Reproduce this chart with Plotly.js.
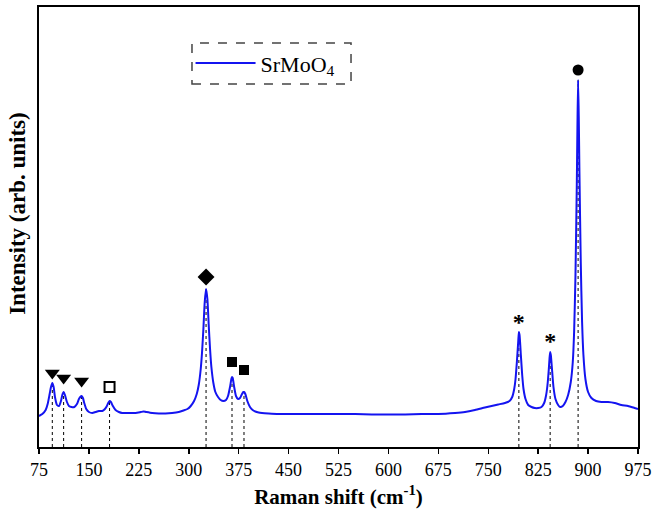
<!DOCTYPE html>
<html>
<head>
<meta charset="utf-8">
<script src="https://cdn.plot.ly/plotly-3.0.1.min.js"></script>
<style>html,body{margin:0;padding:0;background:#fff;}#chart{width:659px;height:513px;}</style>
</head>
<body>
<div id="chart"></div>
<script>
// Raman spectrum (x: Raman shift in cm^-1, y: intensity in arbitrary units)
var ramanShift = [75,80,85,88,91,93,95,97,99,102,105,108,110,112,114,117,120,124,128,132,135,137,139,141,143,146,150,155,160,165,170,174,177,179,181,183,186,190,195,200,210,220,228,232,236,245,255,265,275,285,292,298,303,308,312,315,318,320,322,324,326,328,330,332,334,337,340,344,348,352,356,359,362,364,365,366,368,371,374,377,380,382,383,385,388,392,396,400,405,410,420,435,450,475,500,525,550,575,600,625,650,675,700,715,730,745,755,765,775,782,786,789,791,793,795,796,797,799,801,803,806,810,815,820,825,830,834,837,839,841,842,843,844,846,848,851,855,858,862,866,870,874,877,879,881,883,884,885,886,887,889,891,893,896,900,905,912,920,930,940,950,960,970,975];
var intensity = [31,33,37,43,53,60,64,60,50,42,41,46,52,55,52,45,41,40,40,43,48,50,51,49,44,38,35,34,35,36,36,38,41,44,46,45,41,37,35,34,34,34,35,35.5,35,34,33.5,33.5,34,35,36.5,38,41,46,53,62,78,95,118,145,158,148,122,98,80,64,55,50,47,46,47,51,60,68,70,69,61,51,48,49,53,55,55,53,46,40,37,35.5,34.5,34,33.5,33,33,33,33,33,33,32.5,32.5,32.5,33,33,34,35,37,39.5,41,42.5,44,46,50,58,68,85,105,115,112,92,72,58,48,42,40,39,39,40,44,52,62,78,88,95,92,76,60,48,42,40,41,45,52,65,85,115,170,260,320,367,330,275,185,125,92,68,55,49,46,45,45,44,42,41,39,38];

// Assigned peaks
var peakPos    = [95, 112, 139, 181, 326, 365, 383, 796, 843, 885];
var peakTop    = [64, 55, 51, 46, 158, 70, 55, 115, 95, 367];
// Peak symbols
var triX = [95, 112, 139];         var triY = [74, 69, 66];
var openSqX = [181];               var openSqY = [60];
var diaX = [326];                  var diaY = [170];
var sqX = [365, 383];              var sqY = [85, 77];
var starX = [796, 843];            var starY = [123, 104];
var dotX = [885];                  var dotY = [377];

var xTicks = [75,150,225,300,375,450,525,600,675,750,825,900,975];

var dropX = [], dropY = [];
for (var i = 0; i < peakPos.length; i++) {
  dropX.push(peakPos[i], peakPos[i], null);
  dropY.push(0, peakTop[i], null);
}

var serif = "Liberation Serif, Times New Roman, serif";

var traces = [
  {x: dropX, y: dropY, mode: 'lines', line: {color: '#000', width: 1, dash: 'dot'}, showlegend: false, hoverinfo: 'skip'},
  {x: ramanShift, y: intensity, mode: 'lines', name: 'SrMoO<sub>4</sub>',
   line: {color: '#1414f0', width: 2, shape: 'spline', smoothing: 0.6}},
  {x: triX, y: triY, mode: 'markers', marker: {symbol: 'triangle-down', size: 13, color: '#000'}, showlegend: false},
  {x: openSqX, y: openSqY, mode: 'markers', marker: {symbol: 'square-open', size: 10, color: '#000', line: {width: 2}}, showlegend: false},
  {x: diaX, y: diaY, mode: 'markers', marker: {symbol: 'diamond', size: 13, color: '#000'}, showlegend: false},
  {x: sqX, y: sqY, mode: 'markers', marker: {symbol: 'square', size: 10, color: '#000'}, showlegend: false},
  {x: starX, y: starY, mode: 'text', text: starX.map(function(){return '<b>*</b>';}), textposition: 'middle center',
   textfont: {family: serif, size: 24, color: '#000'}, showlegend: false},
  {x: dotX, y: dotY, mode: 'markers', marker: {symbol: 'circle', size: 11, color: '#000'}, showlegend: false}
];

var layout = {
  width: 659, height: 513,
  margin: {l: 39, r: 21, t: 7, b: 66},
  paper_bgcolor: '#fff', plot_bgcolor: '#fff',
  font: {family: serif, color: '#000'},
  xaxis: {
    range: [75, 975], tickvals: xTicks, ticktext: xTicks.map(String),
    ticks: 'outside', ticklen: 5, tickwidth: 1.5, tickcolor: '#000',
    showline: true, linecolor: '#000', linewidth: 2, mirror: true,
    showgrid: false, zeroline: false,
    tickfont: {family: serif, size: 18, color: '#000'},
    title: {text: '<b>Raman shift (cm<sup>-1</sup>)</b>', font: {family: serif, size: 21, color: '#000'}, standoff: 11}
  },
  yaxis: {
    range: [0, 440], showticklabels: false, ticks: '',
    showline: true, linecolor: '#000', linewidth: 2, mirror: true,
    showgrid: false, zeroline: false
  },
  annotations: [
    {text: '<b>Intensity (arb. units)</b>', xref: 'paper', yref: 'paper', x: -0.035, y: 0.53,
     xanchor: 'center', yanchor: 'middle', textangle: -90, showarrow: false,
     font: {family: serif, size: 23, color: '#000'}}
  ],
  showlegend: true,
  legend: {x: 0.253, y: 0.872, xanchor: 'left', yanchor: 'middle', bgcolor: 'rgba(0,0,0,0)',
           borderwidth: 0, itemwidth: 60, font: {family: serif, size: 22, color: '#000'}},
  shapes: [
    {type: 'rect', xref: 'paper', yref: 'paper', x0: 0.2554, x1: 0.5209, y0: 0.825, y1: 0.918,
     line: {color: '#444', width: 1.5, dash: 'dash'}, fillcolor: 'rgba(0,0,0,0)'}
  ]
};

Plotly.newPlot('chart', traces, layout, {displayModeBar: false, staticPlot: true});
</script>
</body>
</html>
